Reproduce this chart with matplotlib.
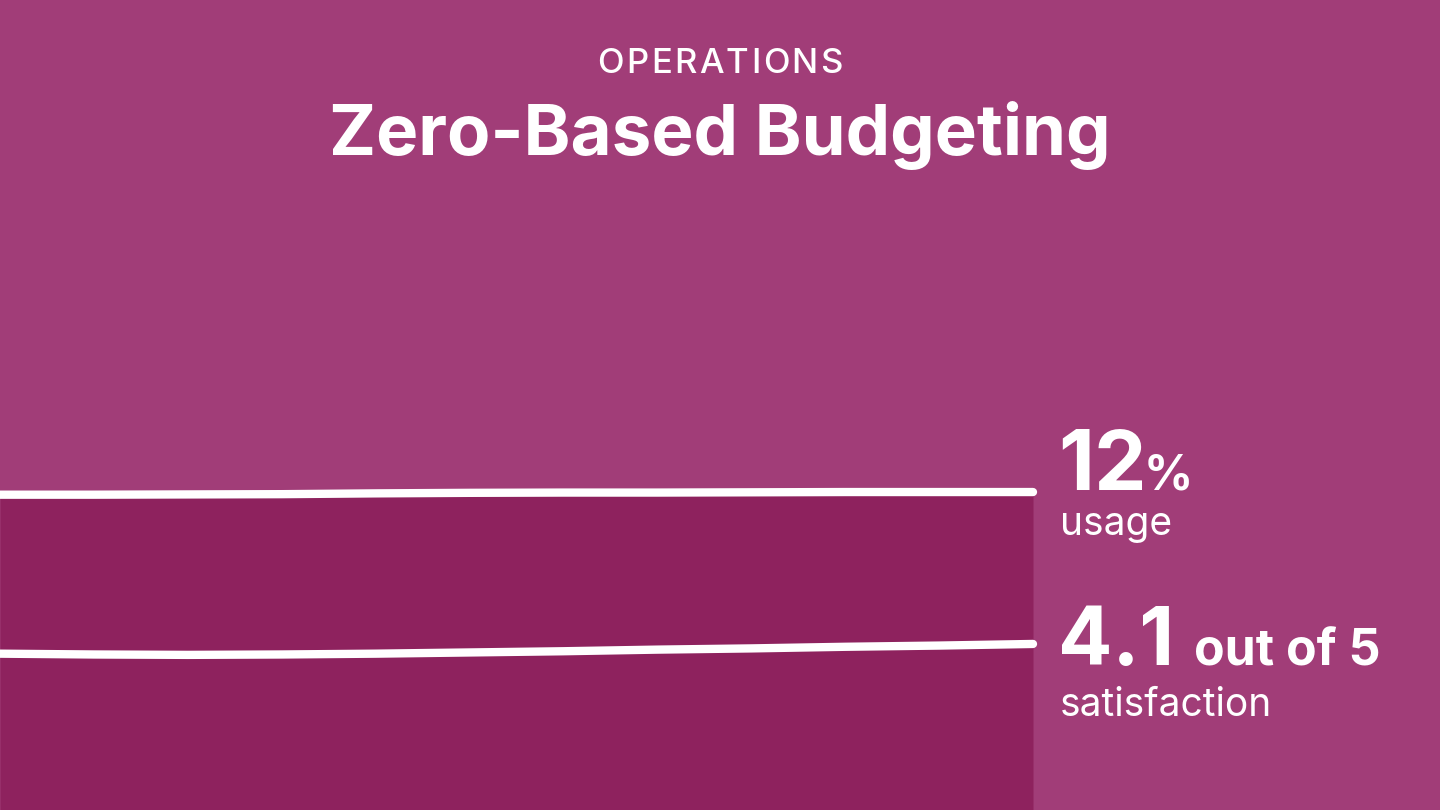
import matplotlib
matplotlib.use("Agg")
import matplotlib.pyplot as plt

# datos
meses = [0, 1, 2, 3, 4, 5, 6, 7, 8, 9, 10, 11]
uso = [11.90, 11.90, 11.91, 11.92, 11.95, 11.97, 11.98, 11.98, 11.99, 12.0, 12.0, 12.0]
satisfaccion = [3.86, 3.84, 3.83, 3.84, 3.86, 3.89, 3.92, 3.96, 3.99, 4.03, 4.06, 4.1]

FONDO = "#A13D78"
OSCURO = "#8E225E"
plt.rcParams["font.family"] = ["Inter", "DejaVu Sans"]

fig = plt.figure(figsize=(14.4, 8.1), dpi=100, facecolor=FONDO)
ax = fig.add_axes([0, 0, 1, 1])
ax.set_facecolor(FONDO)
ax.set_xlim(0, 11 * 1440 / 1033)
ax.set_ylim(0, 30.57)
ax.axis("off")

# area bajo la linea de uso
ax.fill_between(meses, uso, 0, color=OSCURO, linewidth=0)
ax.plot(meses, uso, color="white", linewidth=6, solid_capstyle="round")

ax2 = ax.twinx()
ax2.set_ylim(0, 20)
ax2.axis("off")
ax2.plot(meses, satisfaccion, color="white", linewidth=6, solid_capstyle="round")

def px(x, y):
    return x / 1440, 1 - y / 810

fig.text(*px(720, 155), "Zero-Based Budgeting", color="white", fontsize=51, ha="center",
         va="baseline", fontweight="bold")

t1 = fig.text(*px(1058, 490), "12", color="white", fontsize=60, fontweight="bold", va="baseline")
t2 = fig.text(*px(1058, 665), "4.1", color="white", fontsize=58, fontweight="bold", va="baseline")
fig.text(*px(1060, 535), "usage", color="white", fontsize=28, va="baseline")
fig.text(*px(1060, 716), "satisfaction", color="white", fontsize=28, va="baseline")

fig.canvas.draw()
r = fig.canvas.get_renderer()
b1 = t1.get_window_extent(r)
b2 = t2.get_window_extent(r)
fig.text((b1.x1 - 3) / 1440, 1 - 490 / 810, "%", color="white", fontsize=35,
         fontweight="bold", va="baseline")
fig.text((b2.x1 + 20) / 1440, 1 - 665 / 810, "out of 5", color="white", fontsize=36,
         fontweight="bold", va="baseline")

# OPERATIONS con espaciado entre letras
palabra = "OPERATIONS"
ancho_total = 245
letras = []
for c in palabra:
    t = fig.text(0, 0, c, color="white", fontsize=25, fontweight="medium", va="baseline")
    letras.append(t)
fig.canvas.draw()
anchos = [t.get_window_extent(r).width for t in letras]
esp = (ancho_total - sum(anchos)) / (len(palabra) - 1)
x = 720 - ancho_total / 2
for t, w in zip(letras, anchos):
    t.set_position(px(x, 73))
    x += w + esp

fig.savefig("out.png", dpi=100, facecolor=FONDO)
